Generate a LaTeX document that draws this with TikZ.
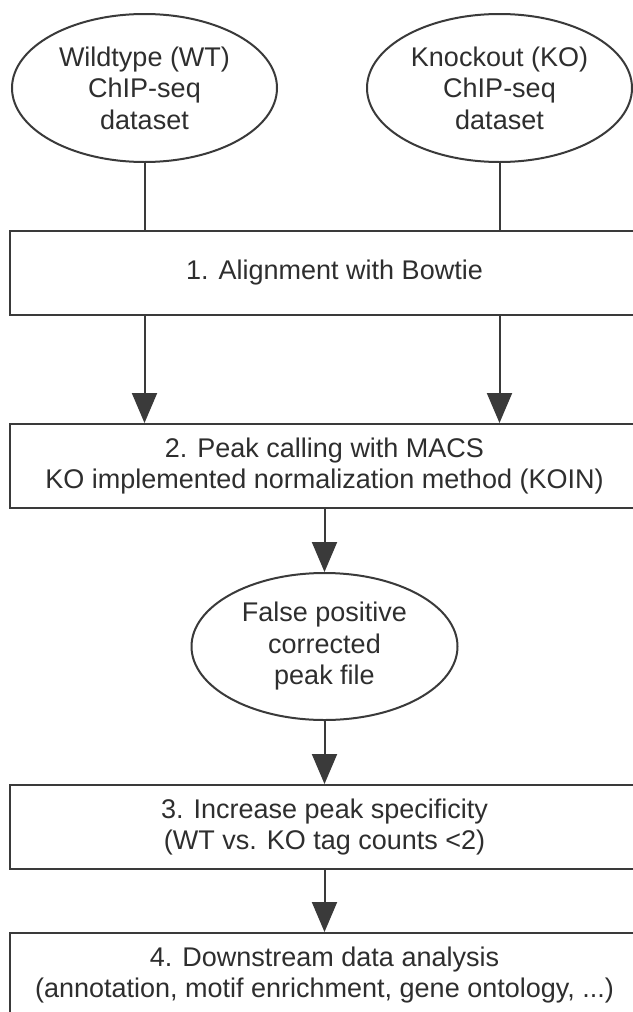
\documentclass[tikz,border=0pt]{standalone}
\usepackage{fontspec}
\setmainfont{Liberation Sans}
\usetikzlibrary{arrows.meta,shapes.geometric}
\definecolor{ln}{HTML}{3A3A3A}
\definecolor{tx}{HTML}{2E2E2E}
\begin{document}
\begin{tikzpicture}[x=1pt,y=-1pt,
  every node/.style={font=\fontsize{27}{31.5}\selectfont, text=tx, align=center},
  oval/.style={ellipse, draw=ln, line width=2pt, minimum width=265pt, minimum height=148pt, inner sep=0pt},
  stepbox/.style={rectangle, draw=ln, line width=2pt, minimum width=629pt, minimum height=84pt, inner sep=0pt},
  link/.style={draw=ln, line width=2pt},
  arr/.style={link, -{Triangle[length=30pt,width=25pt]}}]
\useasboundingbox (0,0) rectangle (632,1012);
\fill[white] (0,0) rectangle (632,1012);
\node[oval] (wt) at (144.5,88) {Wildtype (WT)\\ChIP-seq\\dataset};
\node[oval] (ko) at (499.5,88) {Knockout (KO)\\ChIP-seq\\dataset};
\node[stepbox] (box1) at (324.5,273) {\hspace*{20pt}1. Alignment with Bowtie};
\node[stepbox] (box2) at (324.5,466) {2. Peak calling with MACS\\KO implemented normalization method (KOIN)};
\node[oval, minimum width=266pt, minimum height=147pt] (fp) at (324.5,646.5) {False positive\\corrected\\peak file};
\node[stepbox] (box3) at (324.5,827) {3. Increase peak specificity\\(WT vs. KO tag counts <2)};
\node[stepbox] (box4) at (324.5,975) {4. Downstream data analysis\\(annotation, motif enrichment, gene ontology, ...)};
\draw[link] (wt.south) -- (wt.south |- box1.north);
\draw[link] (ko.south) -- (ko.south |- box1.north);
\draw[arr] (wt.south |- box1.south) -- (wt.south |- box2.north);
\draw[arr] (ko.south |- box1.south) -- (ko.south |- box2.north);
\draw[arr] (box2) -- (fp);
\draw[arr] (fp) -- (box3);
\draw[arr] (box3) -- (box4);
\end{tikzpicture}
\end{document}
